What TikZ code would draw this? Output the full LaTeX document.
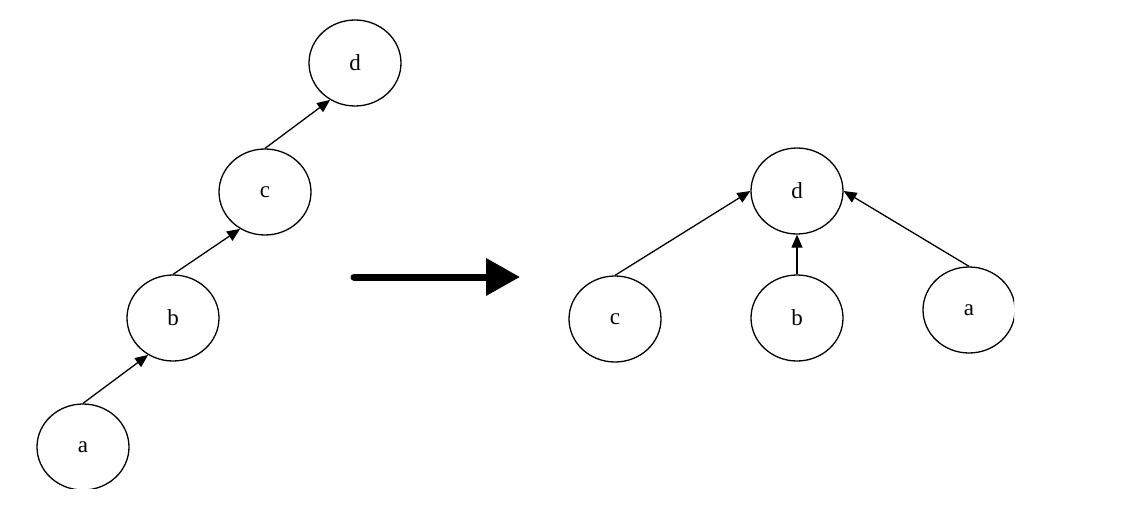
\documentclass[tikz,border=0pt]{standalone}
\usepackage{fontspec}
\setmainfont{Liberation Serif}
\usetikzlibrary{shapes.geometric,arrows.meta}
\tikzset{
  vtx/.style={draw, ellipse, line width=1.3pt, minimum width=92pt, minimum height=86pt, inner sep=0pt, font=\fontsize{23}{23}\selectfont},
  edge/.style={line width=1.3pt, -{Triangle[length=13pt,width=11pt]}},
  big/.style={line width=7pt, line cap=round, -{Triangle[length=34pt,width=36pt]}}
}
\begin{document}
\begin{tikzpicture}[x=1pt,y=-1pt]
\useasboundingbox (0,0) rectangle (1121,505);
\clip (0,0) rectangle (1014,488);
% left chain
\node[vtx] (a1) at (83,447) {a};
\node[vtx] (b1) at (173,318) {b};
\node[vtx] (c1) at (265,192) {c};
\node[vtx] (d1) at (355,63) {d};
\draw[edge] (a1.north) -- (b1.236);
\draw[edge] (b1.north) -- (c1.236);
\draw[edge] (c1.north) -- (d1.236);
% big arrow
\coordinate (s) at (354,277);
\coordinate (t) at (520,277);
\draw[big] (s) -- (t);
% right tree
\node[vtx] (d2) at (797,191) {d};
\node[vtx] (c2) at (615,319) {c};
\node[vtx] (b2) at (797,318) {b};
\node[vtx] (a2) at (969,310) {a};
\draw[edge] (c2.north) -- (d2.west);
\draw[edge] (b2.north) -- (d2.south);
\draw[edge] (a2.north) -- (d2.east);
\end{tikzpicture}
\end{document}
